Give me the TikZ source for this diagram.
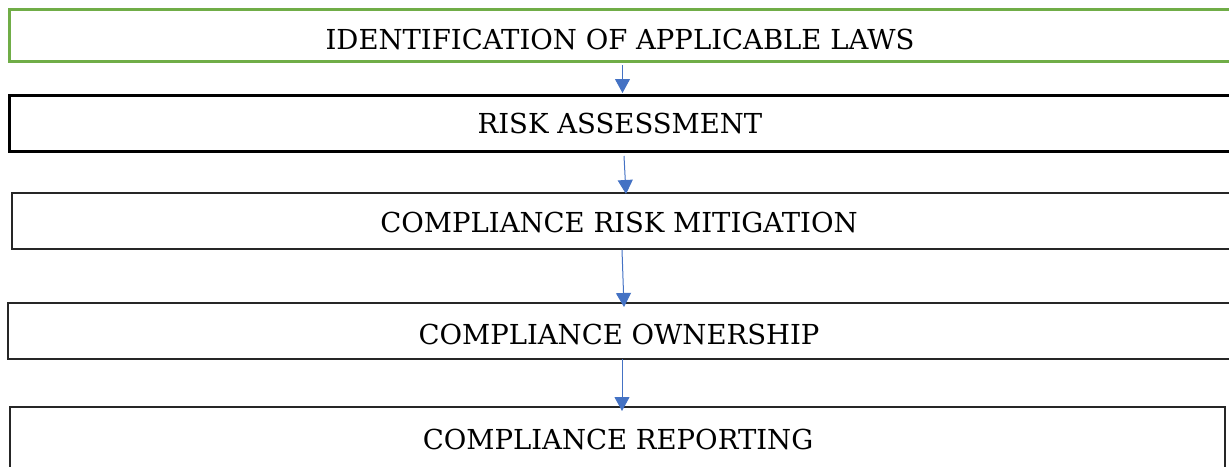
\documentclass[tikz,border=0pt]{standalone}
\usepackage{fontspec}
\setmainfont{DejaVu Serif}
\usetikzlibrary{arrows.meta}
\definecolor{boxgreen}{HTML}{70AD47}
\definecolor{arrowblue}{HTML}{4472C4}
\tikzset{
  box/.style={rectangle, inner sep=0pt, outer sep=0pt, anchor=north west},
  lbl/.style={inner sep=0pt, outer sep=0pt, font=\fontsize{27.5}{30}\selectfont, text=black},
  flow/.style={draw=arrowblue, line width=1pt, -{Triangle[width=15pt,length=14pt]}, arrowblue}
}
\begin{document}
\begin{tikzpicture}[x=1pt,y=-1pt]
\useasboundingbox (0,0) rectangle (1229,466);
\clip (0,0) rectangle (1229,466);
\node[box, draw=boxgreen, line width=3pt, minimum width=1223pt, minimum height=52pt] (b1) at (9,9) {};
\node[box, draw=black, line width=3pt, minimum width=1223pt, minimum height=56pt] (b2) at (9,95) {};
\node[box, draw=black!85, line width=1.3pt, minimum width=1220pt, minimum height=56pt] (b3) at (12,193) {};
\node[box, draw=black!85, line width=1.3pt, minimum width=1224pt, minimum height=56pt] (b4) at (8,303) {};
\node[box, draw=black!85, line width=1.3pt, minimum width=1215pt, minimum height=73pt] (b5) at (10,407) {};
\node[lbl] (t1) at (620,39) {IDENTIFICATION OF APPLICABLE LAWS};
\node[lbl] (t2) at (620,123) {RISK ASSESSMENT};
\node[lbl] (t3) at (619,222) {COMPLIANCE RISK MITIGATION};
\node[lbl] (t4) at (619,334) {COMPLIANCE OWNERSHIP};
\node[lbl] (t5) at (618,439) {COMPLIANCE REPORTING};
\draw[flow] ([xshift=2pt,yshift=-4pt]b1.south) -- ([xshift=2pt,yshift=2pt]b2.north);
\draw[flow] ([xshift=3.5pt,yshift=-5pt]b2.south) -- ([xshift=4pt,yshift=-1pt]b3.north);
\draw[flow] ([xshift=0pt,yshift=-1pt]b3.south) -- ([xshift=4pt,yshift=-4pt]b4.north);
\draw[flow] ([xshift=2pt,yshift=0pt]b4.south) -- ([xshift=4.5pt,yshift=-4pt]b5.north);
\end{tikzpicture}
\end{document}
